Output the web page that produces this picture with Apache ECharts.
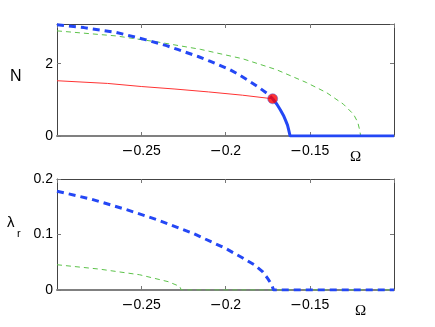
<!DOCTYPE html>
<html><head><meta charset="utf-8">
<script src="https://cdn.jsdelivr.net/npm/echarts@6/dist/echarts.min.js"></script>
<style>html,body{margin:0;padding:0;background:#fff}#c{width:435px;height:327px}</style>
</head><body><div id="c"></div>
<script>
// ---- data ----
const xTicks = [-0.3, -0.25, -0.2, -0.15, -0.1];
const topYTicks = [0, 2];
const botYTicks = [0, 0.1, 0.2];

// top panel: N vs Omega
const blueUnstOmega = [-0.3, -0.284, -0.265, -0.247, -0.235, -0.228, -0.2163, -0.2093, -0.198, -0.1925, -0.1865, -0.181, -0.1756, -0.172];
const blueUnstN     = [3.08, 3.0, 2.87, 2.66, 2.50, 2.39, 2.20, 2.07, 1.85, 1.71, 1.54, 1.37, 1.19, 1.03];
const blueStabOmega = [-0.172, -0.1695, -0.1674, -0.1656, -0.1644, -0.1632, -0.1625, -0.1620, -0.1617, -0.1];
const blueStabN     = [1.03, 0.88, 0.72, 0.57, 0.44, 0.30, 0.17, 0.07, 0, 0];
const redOmega = [-0.3, -0.27, -0.25, -0.23, -0.21, -0.19, -0.172];
const redN     = [1.53, 1.455, 1.37, 1.30, 1.22, 1.13, 1.03];
const greenTopOmega = [-0.3, -0.265, -0.24, -0.215, -0.19, -0.17, -0.152, -0.14, -0.13, -0.124, -0.1215, -0.1203, -0.1198, -0.1];
const greenTopN     = [2.91, 2.77, 2.60, 2.40, 2.14, 1.84, 1.48, 1.20, 0.88, 0.60, 0.38, 0.15, 0, 0];
const pointOmega = [-0.172];
const pointN = [1.03];

// bottom panel: lambda_r vs Omega
const blueLamOmega = [-0.3, -0.28, -0.26, -0.24, -0.22, -0.2, -0.19, -0.183, -0.178, -0.175, -0.1725, -0.1715, -0.1];
const blueLam      = [0.178, 0.164, 0.146, 0.126, 0.103, 0.075, 0.058, 0.0455, 0.033, 0.021, 0.009, 0, 0];
const greenLamOmega = [-0.3, -0.275, -0.251, -0.234, -0.2272, -0.2262, -0.1];
const greenLam      = [0.0455, 0.0377, 0.0275, 0.015, 0.0065, 0, 0];

const zip = (a, b) => a.map((v, i) => [v, b[i]]);
const fmtX = v => {
  if (!xTicks.some(t => Math.abs(t - v) < 1e-9)) return '';
  const s = String(Math.abs(+v.toFixed(3)));
  return v < 0 ? '{m|\u2212}{d|' + s + '}' : '{d|' + s + '}';
};

const BLUE = '#2447f5', GREEN = '#5cc24a', RED = '#ff3333';
const FONT = 'Liberation Sans';
const lab = { color: '#000', fontFamily: FONT, fontSize: 14 };

function xAx(grid, pos, labels) {
  return {
    type: 'value', gridIndex: grid, position: pos, min: -0.3, max: -0.1, interval: 0.05,
    axisLine: { show: true, onZero: false, lineStyle: pos === 'bottom' ? { color: '#808080', width: 2 } : { color: '#444', width: 1 } },
    axisTick: { show: true, inside: true, length: 4, lineStyle: { color: '#777' } },
    axisLabel: labels ? Object.assign({ show: true, margin: 8, showMinLabel: false, showMaxLabel: false, formatter: fmtX,
      rich: {
        m: { fontFamily: 'DejaVu Sans', fontSize: 14, color: '#000' },
        d: { fontFamily: FONT, fontSize: 14, color: '#000' }
      } }, lab) : { show: false },
    splitLine: { show: false }
  };
}
function yAx(grid, pos, min, max, interval, labels, fmt) {
  return {
    type: 'value', gridIndex: grid, position: pos, min: min, max: max, interval: interval,
    axisLine: { show: true, onZero: false, lineStyle: { color: '#444', width: 1 } },
    axisTick: { show: true, inside: true, length: 4, lineStyle: { color: '#777' } },
    axisLabel: labels ? Object.assign({ show: true, margin: 4, showMaxLabel: max % interval === 0, formatter: fmt }, lab) : { show: false },
    splitLine: { show: false }
  };
}
function line(x, y, xi, yi, color, width, type, z) {
  return { type: 'line', xAxisIndex: xi, yAxisIndex: yi, data: zip(x, y), showSymbol: false, symbol: 'none',
    lineStyle: { color: color, width: width, type: type, cap: 'butt' }, z: z || 2, animation: false, silent: true };
}

const chart = echarts.init(document.getElementById('c'), null, { renderer: 'canvas' });
chart.setOption({
  animation: false,
  grid: [
    { left: 57, right: 41, top: 24, height: 112 },
    { left: 57, right: 41, top: 179, height: 111 }
  ],
  xAxis: [xAx(0, 'bottom', true), xAx(0, 'top', false), xAx(1, 'bottom', true), xAx(1, 'top', false)],
  yAxis: [
    yAx(0, 'left', 0, 3.1, 2, true, v => topYTicks.includes(v) ? String(v) : ''),
    yAx(0, 'right', 0, 3.1, 2, false),
    yAx(1, 'left', 0, 0.2, 0.1, true, v => botYTicks.some(t => Math.abs(t - v) < 1e-9) ? (+v.toFixed(1)).toString() : ''),
    yAx(1, 'right', 0, 0.2, 0.1, false)
  ],
  series: [
    line(greenTopOmega, greenTopN, 0, 0, GREEN, 1, [5, 4], 2),
    line(redOmega, redN, 0, 0, RED, 1, 'solid', 3),
    line(blueUnstOmega, blueUnstN, 0, 0, BLUE, 3, [7, 5], 4),
    line(blueStabOmega, blueStabN, 0, 0, BLUE, 3, 'solid', 4),
    { type: 'scatter', xAxisIndex: 0, yAxisIndex: 0, data: zip(pointOmega, pointN), symbol: 'circle', symbolSize: 10,
      itemStyle: { color: '#ff0000', borderColor: '#4060f0', borderWidth: 0.6 }, z: 6, silent: true },
    line(greenLamOmega, greenLam, 2, 2, GREEN, 1, [5, 4], 3),
    line(blueLamOmega, blueLam, 2, 2, BLUE, 3, [7, 5], 4)
  ],
  graphic: [
    { type: 'text', left: 10, top: 69, style: { text: 'N', font: '16px "Liberation Sans"', fill: '#000' } },
    { type: 'text', left: 350, top: 150, style: { text: '\u03A9', font: '15px "Liberation Serif"', fill: '#000' } },
    { type: 'text', left: 7, top: 215, style: { text: '\u03BB', font: '15px "Liberation Sans"', fill: '#000' } },
    { type: 'text', left: 17, top: 228, style: { text: 'r', font: '11px "Liberation Sans"', fill: '#000' } },
    { type: 'text', left: 355, top: 304, style: { text: '\u03A9', font: '15px "Liberation Serif"', fill: '#000' } }
  ]
});
</script></body></html>
